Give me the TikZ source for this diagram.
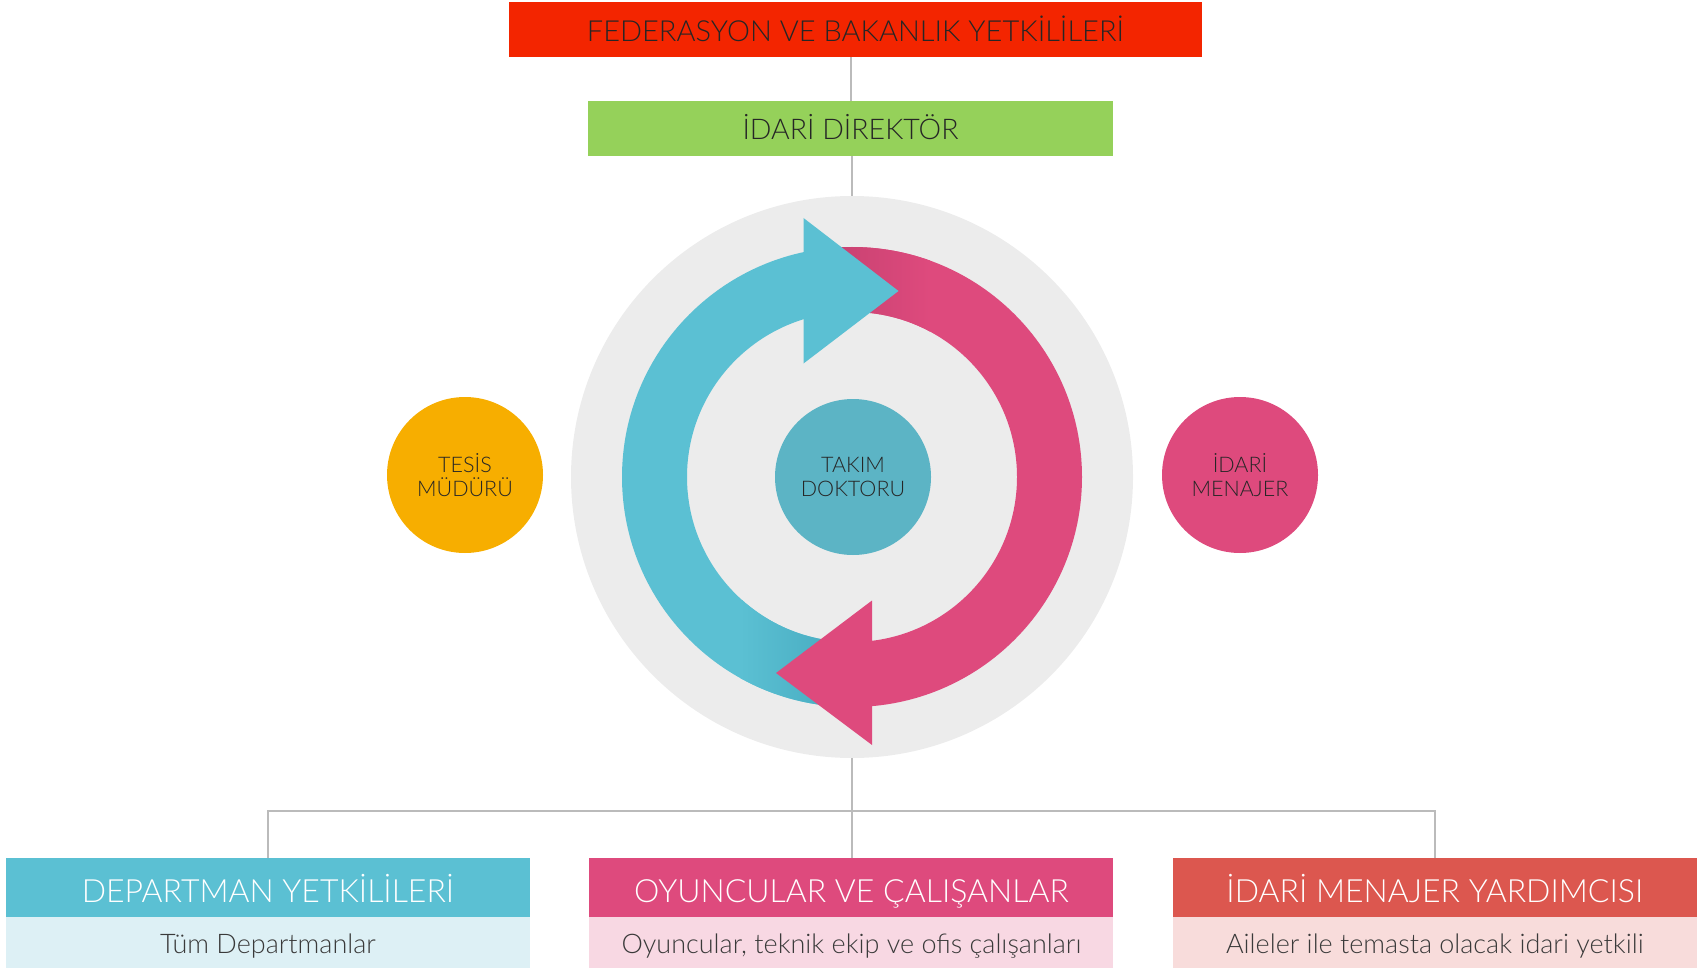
\documentclass[tikz,border=0pt]{standalone}
\usepackage{fontspec}
\setmainfont{Lato}[UprightFont={* Light}]
\usetikzlibrary{positioning}

\definecolor{fedred}{HTML}{F32500}
\definecolor{dirgreen}{HTML}{95D15A}
\definecolor{ringgrey}{HTML}{ECECEC}
\definecolor{cyclecyan}{HTML}{5BC0D3}
\definecolor{cyandeep}{HTML}{45A9BE}
\definecolor{cyclepink}{HTML}{DE4A7D}
\definecolor{pinkdeep}{HTML}{C23F6E}
\definecolor{doctorteal}{HTML}{5CB4C5}
\definecolor{tesisorange}{HTML}{F7AE00}
\definecolor{deptpale}{HTML}{DDF0F5}
\definecolor{oyunpale}{HTML}{F8D8E3}
\definecolor{yardred}{HTML}{DC574F}
\definecolor{yardpale}{HTML}{F8DCDB}
\definecolor{txtdark}{HTML}{262626}
\definecolor{txtsub}{HTML}{3A3A3A}
\definecolor{linegrey}{HTML}{BBBBBB}

\begin{document}
\begin{tikzpicture}[x=1pt, y=-1pt,
    every node/.style = {inner sep=0pt, align=center},
    topbox/.style = {rectangle, minimum height=55pt, text=txtdark, text depth=0pt},
    bubble/.style = {circle, minimum size=156pt, text=txtdark,
      font=\fontsize{21.5}{24.5}\selectfont},
    headbox/.style = {rectangle, minimum width=524pt, minimum height=59pt,
      text=white, text height=29pt, text depth=0pt,
      font=\fontsize{32}{38}\selectfont},
    subbox/.style = {rectangle, minimum width=524pt, minimum height=51pt,
      text=txtsub, text height=21pt, text depth=0pt,
      font=\fontsize{27}{32}\selectfont},
    link/.style = {draw=linegrey, line width=2pt}]
  \useasboundingbox (0,0) rectangle (1699,968);

  % top of the chart
  \node[topbox, fill=fedred, minimum width=693pt, text height=25pt,
    font=\fontsize{29}{35}\selectfont] (fed) at (855.5,29.5) {FEDERASYON VE BAKANLIK YETKİLİLERİ};
  \node[topbox, fill=dirgreen, minimum width=525pt, text height=23pt,
    font=\fontsize{28.5}{34}\selectfont] (dir) at (850.5,128.5) {İDARİ DİREKTÖR};

  % the cycle
  \node[circle, fill=ringgrey, minimum size=562pt] (ring) at (852,477) {};
  \begin{scope}[even odd rule]
    \clip (810,0) -- (1699,0) -- (1699,968) -- (872,968) -- (872,477) -- (810,477) -- cycle;
    \clip (852,477) circle[radius=230] circle[radius=165];
    \fill[cyclepink] (800,0) rectangle (1699,968);
    \shade[left color=pinkdeep, right color=cyclepink] (805,200) rectangle (930,340);
  \end{scope}
  \begin{scope}[even odd rule]
    \clip (804,0) -- (0,0) -- (0,968) -- (852,968) -- (852,477) -- (804,477) -- cycle;
    \clip (852,477) circle[radius=230] circle[radius=165];
    \fill[cyclecyan] (0,0) rectangle (852,968);
    \shade[left color=cyclecyan, right color=cyandeep] (740,600) rectangle (852,720);
  \end{scope}
  \fill[cyclecyan] (803.5,218) -- (898.5,291) -- (803.5,363.5) -- cycle;
  \fill[cyclepink] (872,600.5) -- (776,673) -- (872,745) -- cycle;

  \node[bubble, fill=doctorteal] (doctor) at (853,477) {TAKIM\\DOKTORU};
  \node[bubble, fill=tesisorange] (tesis) at (465,475) {TESİS\\MÜDÜRÜ};
  \node[bubble, fill=cyclepink] (menajer) at (1240,475) {İDARİ\\MENAJER};

  % bottom row
  \node[headbox, fill=cyclecyan] (dept) at (268,887.5) {DEPARTMAN YETKİLİLERİ};
  \node[subbox, fill=deptpale, below=0pt of dept] (deptsub) {Tüm Departmanlar};
  \node[headbox, fill=cyclepink, right=59pt of dept] (oyun) {OYUNCULAR VE ÇALIŞANLAR};
  \node[subbox, fill=oyunpale, below=0pt of oyun] (oyunsub) {Oyuncular, teknik ekip ve ofis çalışanları};
  \node[headbox, fill=yardred, right=59pt of oyun] (yard) {İDARİ MENAJER YARDIMCISI};
  \node[subbox, fill=yardpale, below=0pt of yard] (yardsub) {Aileler ile temasta olacak idari yetkili};

  % connectors
  \coordinate (bus) at (852,811);
  \draw[link] (dir.north |- fed.south) -- (dir.north);
  \draw[link] (ring.north |- dir.south) -- (ring.north);
  \draw[link] (ring.south) -- (ring.south |- oyun.north);
  \draw[link] (dept.north) |- (bus) -| (yard.north);
\end{tikzpicture}
\end{document}
